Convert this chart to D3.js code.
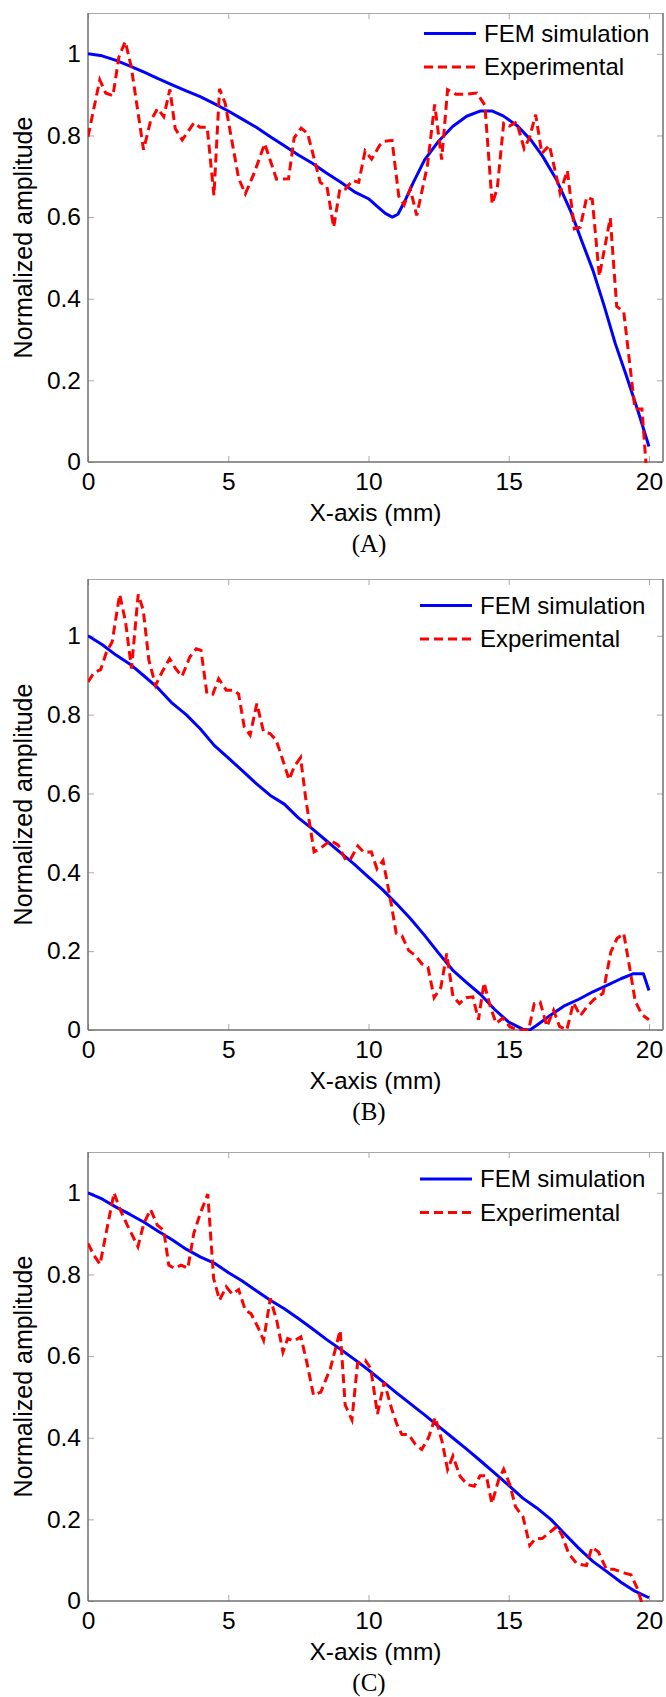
<!DOCTYPE html>
<html>
<head>
<meta charset="utf-8">
<script src="https://cdn.jsdelivr.net/npm/d3@7"></script>
<style>
  body { margin: 0; background: #fff; }
  svg text { font-family: "Liberation Sans", Arial, Helvetica, sans-serif; fill: #000; }
  svg text.caption { font-family: "Liberation Serif", "Times New Roman", serif; }
</style>
</head>
<body>
<div id="graphic"></div>
<script>
// axis ticks and labels
const xTicks = [0, 5, 10, 15, 20];
const yTicks = [0, 0.2, 0.4, 0.6, 0.8, 1];
const seriesNames = ["FEM simulation", "Experimental"];
const panelLabels = ["(A)", "(B)", "(C)"];
const xLabel = "X-axis (mm)";
const yLabel = "Normalized amplitude";
const xMax = 20.5;
const yMax = [1.1, 1.144, 1.1];

// panel A
const femA_x = [0, 0.5, 1, 1.5, 2, 2.5, 3, 3.5, 4, 4.5,
  5, 5.5, 6, 6.5, 7, 7.5, 8, 8.5, 9, 9.5,
  10, 10.3, 10.6, 10.85, 11.05, 11.3, 11.6, 12, 12.5, 13,
  13.5, 14, 14.4, 14.8, 15.3, 15.8, 16.2, 16.7, 17.2, 17.6,
  18, 18.4, 18.8, 19.2, 19.6, 20];
const femA_y = [1.0, 0.995, 0.984, 0.970, 0.955, 0.939, 0.924, 0.909, 0.895, 0.878,
  0.860, 0.840, 0.820, 0.797, 0.775, 0.752, 0.732, 0.708, 0.686, 0.662,
  0.645, 0.627, 0.609, 0.600, 0.607, 0.640, 0.685, 0.740, 0.786, 0.822,
  0.847, 0.860, 0.860, 0.848, 0.824, 0.788, 0.750, 0.692, 0.616, 0.542,
  0.470, 0.383, 0.290, 0.210, 0.127, 0.038];
const expA_x = [0, 0.42, 0.63, 0.89, 1.1, 1.33, 1.54, 1.98, 2.23, 2.48,
  2.7, 2.92, 3.11, 3.36, 3.78, 3.99, 4.25, 4.49, 4.69, 4.89,
  5.37, 5.61, 5.92, 6.3, 6.72, 7.15, 7.35, 7.6, 7.83, 8.28,
  8.52, 8.76, 8.98, 9.18, 9.43, 9.65, 9.88, 10.11, 10.4, 10.57,
  10.84, 11.08, 11.27, 11.49, 11.72, 12.1, 12.36, 12.61, 12.82, 13.12,
  13.5, 13.86, 14.15, 14.41, 14.59, 14.82, 15.03, 15.28, 15.55, 15.74,
  15.96, 16.18, 16.45, 16.83, 17.09, 17.34, 17.55, 17.78, 17.98, 18.23,
  18.62, 18.85, 19.1, 19.5, 19.75, 19.9];
const expA_y = [0.797, 0.936, 0.904, 0.897, 0.992, 1.03, 0.969, 0.765, 0.835, 0.866,
  0.846, 0.913, 0.817, 0.789, 0.831, 0.820, 0.820, 0.653, 0.914, 0.879,
  0.695, 0.657, 0.707, 0.780, 0.693, 0.694, 0.794, 0.818, 0.805, 0.685,
  0.674, 0.575, 0.669, 0.669, 0.690, 0.685, 0.762, 0.742, 0.776, 0.786,
  0.788, 0.651, 0.630, 0.669, 0.604, 0.726, 0.876, 0.741, 0.912, 0.901,
  0.901, 0.904, 0.874, 0.632, 0.670, 0.830, 0.823, 0.833, 0.768, 0.794,
  0.851, 0.756, 0.776, 0.659, 0.714, 0.571, 0.575, 0.649, 0.643, 0.455,
  0.598, 0.381, 0.368, 0.130, 0.130, -0.01];

// panel B
const femB_x = [0, 0.5, 1, 1.5, 2, 2.5, 3, 3.5, 4, 4.5,
  5, 5.5, 6, 6.5, 7, 7.5, 8, 8.5, 9, 9.5,
  10, 10.5, 11, 11.5, 12, 12.5, 13, 13.5, 14, 14.5,
  15, 15.5, 15.75, 16, 16.5, 17, 17.5, 18, 18.5, 19,
  19.45, 19.8, 20];
const femB_y = [1.0, 0.978, 0.951, 0.928, 0.898, 0.867, 0.829, 0.800, 0.764, 0.722,
  0.690, 0.658, 0.625, 0.595, 0.573, 0.538, 0.510, 0.480, 0.450, 0.420,
  0.388, 0.356, 0.320, 0.282, 0.240, 0.195, 0.152, 0.120, 0.090, 0.052,
  0.020, 0.002, 0.0, 0.012, 0.038, 0.062, 0.078, 0.097, 0.113, 0.130,
  0.143, 0.143, 0.100];
const expB_x = [0, 0.21, 0.45, 0.66, 0.86, 1.13, 1.34, 1.55, 1.79, 1.97,
  2.17, 2.41, 2.64, 2.91, 3.12, 3.35, 3.63, 3.86, 4.03, 4.24,
  4.45, 4.66, 4.93, 5.19, 5.37, 5.57, 5.78, 6.02, 6.26, 6.49,
  6.71, 6.93, 7.17, 7.36, 7.58, 7.77, 8.06, 8.27, 8.65, 8.92,
  9.19, 9.34, 9.62, 9.85, 10.1, 10.3, 10.52, 10.77, 10.99, 11.19,
  11.43, 11.67, 11.9, 12.12, 12.34, 12.58, 12.79, 13.01, 13.24, 13.48,
  13.72, 13.92, 14.12, 14.34, 14.55, 14.79, 15.03, 15.29, 15.71, 15.91,
  16.12, 16.36, 16.6, 16.81, 17.07, 17.31, 17.55, 17.79, 18.03, 18.36,
  18.64, 18.86, 19.1, 19.31, 19.51, 19.75, 20.0];
const expB_y = [0.883, 0.906, 0.914, 0.959, 0.984, 1.105, 1.035, 0.917, 1.105, 1.065,
  0.938, 0.874, 0.908, 0.942, 0.917, 0.897, 0.946, 0.967, 0.963, 0.853,
  0.852, 0.891, 0.862, 0.862, 0.852, 0.769, 0.748, 0.828, 0.756, 0.752,
  0.735, 0.688, 0.635, 0.669, 0.691, 0.583, 0.452, 0.460, 0.481, 0.469,
  0.431, 0.431, 0.467, 0.450, 0.452, 0.409, 0.430, 0.336, 0.245, 0.239,
  0.202, 0.189, 0.168, 0.159, 0.082, 0.108, 0.194, 0.086, 0.067, 0.082,
  0.084, 0.026, 0.120, 0.060, 0.017, 0.030, 0.009, 0.0, 0.0, 0.067,
  0.071, 0.009, 0.050, 0.009, 0.0, 0.069, 0.036, 0.059, 0.077, 0.093,
  0.198, 0.232, 0.245, 0.159, 0.073, 0.039, 0.026];

// panel C
const femC_x = [0, 0.5, 1, 1.5, 2, 2.5, 3, 3.5, 4, 4.5,
  5, 5.5, 6, 6.5, 7, 7.5, 8, 8.5, 9, 9.5,
  10, 10.5, 11, 11.5, 12, 12.5, 13, 13.5, 14, 14.5,
  15, 15.5, 16, 16.5, 17, 17.5, 18, 18.5, 19, 19.5,
  20];
const femC_y = [1.0, 0.985, 0.965, 0.947, 0.928, 0.906, 0.885, 0.862, 0.843, 0.828,
  0.805, 0.784, 0.760, 0.737, 0.716, 0.692, 0.667, 0.641, 0.617, 0.592,
  0.566, 0.538, 0.510, 0.483, 0.456, 0.428, 0.400, 0.372, 0.343, 0.313,
  0.283, 0.252, 0.228, 0.200, 0.164, 0.129, 0.097, 0.072, 0.046, 0.024,
  0.008];
const expC_x = [0, 0.21, 0.43, 0.69, 0.93, 1.1, 1.4, 1.78, 1.99, 2.23,
  2.47, 2.7, 2.88, 3.08, 3.32, 3.56, 3.77, 4.0, 4.27, 4.48,
  4.69, 4.93, 5.14, 5.37, 5.61, 5.81, 6.05, 6.26, 6.5, 6.74,
  6.95, 7.12, 7.33, 7.59, 7.81, 8.04, 8.3, 8.64, 8.99, 9.17,
  9.41, 9.61, 9.88, 10.08, 10.32, 10.56, 10.83, 11.01, 11.19, 11.43,
  11.67, 11.9, 12.14, 12.38, 12.62, 12.82, 13.01, 13.27, 13.53, 13.77,
  13.98, 14.2, 14.4, 14.64, 14.82, 15.04, 15.24, 15.51, 15.75, 15.95,
  16.19, 16.48, 16.72, 16.9, 17.14, 17.43, 17.77, 17.97, 18.2, 18.48,
  18.74, 19.04, 19.36, 19.57, 19.75, 19.95];
const expC_y = [0.876, 0.847, 0.825, 0.917, 1.0, 0.966, 0.921, 0.868, 0.925, 0.959,
  0.921, 0.908, 0.823, 0.815, 0.823, 0.815, 0.900, 0.949, 0.997, 0.790,
  0.737, 0.770, 0.752, 0.763, 0.712, 0.704, 0.672, 0.639, 0.741, 0.684,
  0.610, 0.643, 0.637, 0.647, 0.582, 0.504, 0.512, 0.569, 0.663, 0.480,
  0.444, 0.582, 0.590, 0.570, 0.458, 0.536, 0.470, 0.433, 0.408, 0.408,
  0.384, 0.371, 0.400, 0.450, 0.392, 0.322, 0.355, 0.305, 0.285, 0.281,
  0.307, 0.307, 0.239, 0.297, 0.323, 0.285, 0.231, 0.206, 0.136, 0.153,
  0.153, 0.169, 0.183, 0.161, 0.116, 0.091, 0.087, 0.132, 0.120, 0.078,
  0.078, 0.070, 0.064, 0.033, -0.005, -0.005];

const graphic = d3.select('#graphic');

// layout of the three stacked panels
var fullwidth = 666, fullheight = 1697;
var margin = { left: 88, right: 3 };
var chart_width = fullwidth - margin.left - margin.right;
var panels = [
  { top: 13, height: 449, fem: d3.zip(femA_x, femA_y), exp: d3.zip(expA_x, expA_y), legX: 336, legY: 20.5 },
  { top: 579, height: 451, fem: d3.zip(femB_x, femB_y), exp: d3.zip(expB_x, expB_y), legX: 332, legY: 26.5 },
  { top: 1152, height: 449, fem: d3.zip(femC_x, femC_y), exp: d3.zip(expC_x, expC_y), legX: 332, legY: 27 }
];

var colours = ['#0000ff', '#ff0000'];
var fontSize = 24;

var svg = graphic.append('svg')
  .attr('width', fullwidth)
  .attr('height', fullheight);

function drawPanel(p, i) {
  var height = p.height;

  var x = d3.scaleLinear().domain([0, xMax]).range([0, chart_width]);
  var y = d3.scaleLinear().domain([0, yMax[i]]).range([height, 0]);

  var g = svg.append('g')
    .attr('transform', 'translate(' + margin.left + ',' + p.top + ')');

  // clip so the lines stay inside the box
  g.append('clipPath').attr('id', 'clip' + i)
    .append('rect').attr('width', chart_width).attr('height', height + 1);

  // tick marks on all four sides, pointing in
  var xb = g.append('g').attr('transform', 'translate(0,' + height + ')')
    .call(d3.axisBottom(x).tickValues(xTicks).tickSize(-6).tickPadding(11).tickFormat(d3.format('d')));
  var xt = g.append('g')
    .call(d3.axisTop(x).tickValues(xTicks).tickSize(-6).tickFormat(''));
  var yl = g.append('g')
    .call(d3.axisLeft(y).tickValues(yTicks).tickSize(-6).tickPadding(7).tickFormat(d => String(d)));
  var yr = g.append('g').attr('transform', 'translate(' + chart_width + ',0)')
    .call(d3.axisRight(y).tickValues(yTicks).tickSize(-6).tickFormat(''));

  [xb, xt, yl, yr].forEach(function (a) {
    a.attr('font-size', null).attr('font-family', null);
    a.select('.domain').remove();
    a.selectAll('.tick line').attr('stroke', '#aaaaaa').attr('stroke-width', 1);
    a.selectAll('.tick text').style('font-size', '24.5px');
  });

  // box
  g.append('line').attr('x1', 0).attr('x2', chart_width).attr('y1', 0.5).attr('y2', 0.5)
    .attr('stroke', '#a8a8a8').attr('stroke-width', 1.2);
  g.append('line').attr('x1', chart_width).attr('x2', chart_width).attr('y1', 0).attr('y2', height)
    .attr('stroke', '#707070').attr('stroke-width', 1.5);
  g.append('line').attr('x1', 0).attr('x2', chart_width).attr('y1', height).attr('y2', height)
    .attr('stroke', '#707070').attr('stroke-width', 1.5);
  g.append('line').attr('x1', 0).attr('x2', 0).attr('y1', 0).attr('y2', height)
    .attr('stroke', '#707070').attr('stroke-width', 1.5);

  // lines
  var line = d3.line().x(d => x(d[0])).y(d => y(d[1]));
  var lines = g.append('g').attr('clip-path', 'url(#clip' + i + ')');

  lines.append('path')
    .attr('d', line(p.fem))
    .attr('fill', 'none')
    .attr('stroke', colours[0])
    .attr('stroke-width', 3)
    .attr('stroke-linejoin', 'round');

  lines.append('path')
    .attr('d', line(p.exp))
    .attr('fill', 'none')
    .attr('stroke', colours[1])
    .attr('stroke-width', 3)
    .attr('stroke-dasharray', '9,5');

  // legend, no frame
  var leg = g.append('g').attr('transform', 'translate(' + p.legX + ',' + p.legY + ')');
  seriesNames.forEach(function (name, k) {
    leg.append('line')
      .attr('x1', 0).attr('x2', 52)
      .attr('y1', k * 33.4).attr('y2', k * 33.4)
      .attr('stroke', colours[k])
      .attr('stroke-width', 3)
      .attr('stroke-dasharray', k === 1 ? '9,5' : null);
    leg.append('text')
      .attr('x', 60)
      .attr('y', k * 33.4)
      .attr('dy', '0.35em')
      .style('font-size', fontSize + 'px')
      .text(name);
  });

  // axis titles
  g.append('text')
    .attr('x', chart_width / 2)
    .attr('y', height + 59)
    .attr('text-anchor', 'middle')
    .style('font-size', '24.5px')
    .text(xLabel);

  g.append('text')
    .attr('transform', 'translate(' + (32 - margin.left) + ',' + (height / 2) + ') rotate(-90)')
    .attr('text-anchor', 'middle')
    .style('font-size', '25px')
    .text(yLabel);

  // panel caption
  g.append('text')
    .attr('class', 'caption')
    .attr('x', 369 - margin.left)
    .attr('y', height + 90)
    .attr('text-anchor', 'middle')
    .style('font-size', '25px')
    .text(panelLabels[i]);
}

panels.forEach(drawPanel);
</script>
</body>
</html>
